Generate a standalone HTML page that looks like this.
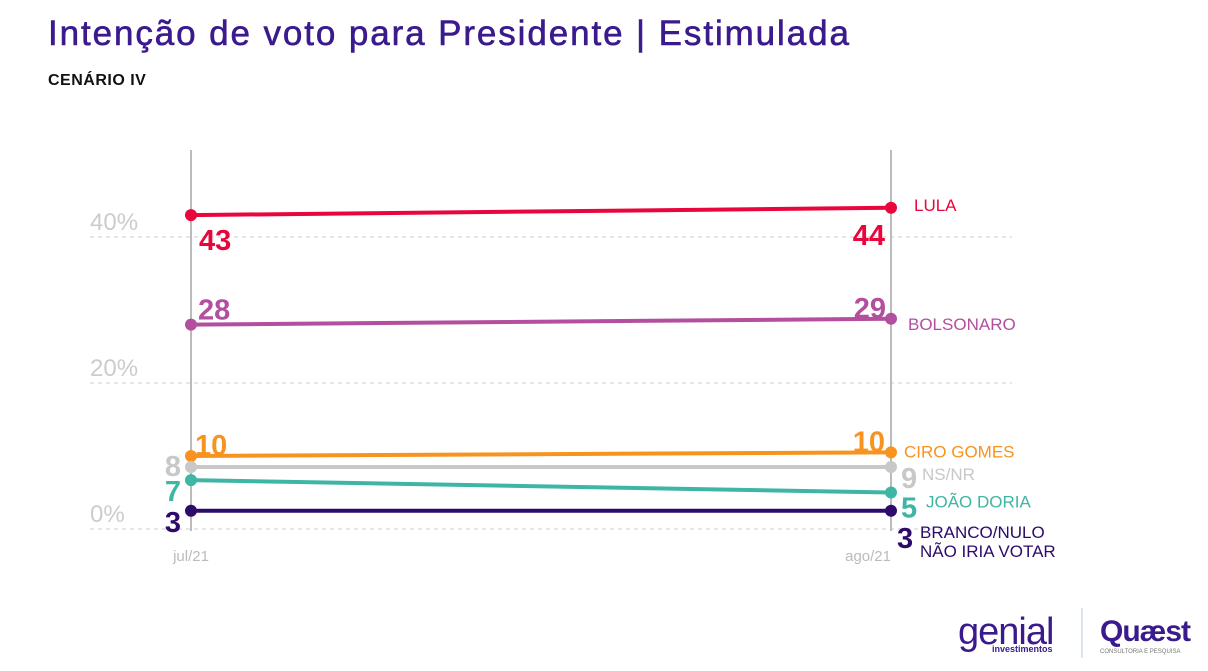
<!DOCTYPE html>
<html><head><meta charset="utf-8"><style>
body{margin:0;width:1208px;height:671px;background:#fff;overflow:hidden;font-family:"Liberation Sans",sans-serif}
#t{position:absolute;left:48px;top:14px;font-size:35px;color:#3a1a8c;letter-spacing:1.9px;-webkit-text-stroke:0.6px #3a1a8c}
#s{position:absolute;left:48px;top:72px;font-size:16px;font-weight:bold;color:#111;letter-spacing:0.5px}
svg{position:absolute;left:0;top:0}
</style></head><body>
<div id="t">Intenção de voto para Presidente | Estimulada</div>
<div id="s">CENÁRIO IV</div>
<svg id="c" width="1208" height="671"></svg>
<script>
const categories=["jul/21","ago/21"];
const seriesNames=["LULA","BOLSONARO","CIRO GOMES","NS/NR","JOÃO DORIA","BRANCO/NULO"];
const lula=[43,44];
const bolsonaro=[28,28.8];
const ciro=[10,10.5];
const nsnr=[8.5,8.5];
const doria=[6.7,5];
const branco=[2.5,2.5];
const printedLula=["43","44"],printedBols=["28","29"],printedCiro=["10","10"],printedNs=["8","9"],printedDoria=["7","5"],printedBranco=["3","3"];
const yTicks=[0,20,40];
const tickLabels=["0%","20%","40%"];
const NS="http://www.w3.org/2000/svg",svg=document.getElementById('c');
const x=i=>191+i*700, y=v=>529-v*7.3;
function el(t,a,txt){const e=document.createElementNS(NS,t);for(const k in a)e.setAttribute(k,a[k]);if(txt!==undefined)e.textContent=txt;svg.appendChild(e);return e;}
yTicks.forEach((v,i)=>{
 const g=el('line',{x1:90,x2:1012,y1:y(v),y2:y(v),stroke:'#ddd','stroke-dasharray':'4 4','stroke-width':1.5});
 
 const t=el('text',{x:90,y:y(v)-7,'font-size':24,fill:'#ccc'},tickLabels[i]);
 
});
categories.forEach((c,i)=>{
 const l=el('line',{x1:x(i),x2:x(i),y1:150,y2:531,stroke:'#bbb','stroke-width':2});
 
 const t=el('text',{x:x(i),y:561,'font-size':15,fill:'#bbb','text-anchor':i?'end':'middle'},c);
 
});
const S=[
 {d:lula,p:printedLula,c:'#e8063c',n:'LULA',lo:[[199,26,'start'],[885,28,'end']],no:[914,-2]},
 {d:bolsonaro,p:printedBols,c:'#b24f9e',n:'BOLSONARO',lo:[[198,-14,'start'],[886,-10,'end']],no:[908,6]},
 {d:ciro,p:printedCiro,c:'#f7931e',n:'CIRO GOMES',lo:[[195,-10,'start'],[885,-10,'end']],no:[904,0]},
 {d:nsnr,p:printedNs,c:'#c8c8c8',n:'NS/NR',lo:[[181,0,'end'],[901,12,'start']],no:[922,8]},
 {d:doria,p:printedDoria,c:'#3fb5a5',n:'JOÃO DORIA',lo:[[181,12,'end'],[901,16,'start']],no:[926,10]},
 {d:branco,p:printedBranco,c:'#2d0a6b',n:'BRANCO/NULO',lo:[[181,12,'end'],[897,28,'start']],no:[920,22]}
];
S.forEach(s=>{
 const ln=el('line',{x1:x(0),y1:y(s.d[0]),x2:x(1),y2:y(s.d[1]),stroke:s.c,'stroke-width':4});
 
 s.d.forEach((v,i)=>{
  const p=el('circle',{cx:x(i),cy:y(v),r:6,fill:s.c});
  
  const o=s.lo[i];
  const t=el('text',{x:o[0],y:y(v)+o[1]+9,'font-size':29,'font-weight':'bold',fill:s.c,'text-anchor':o[2]},s.p[i]);
  
 });
 const nl=el('text',{x:s.no[0],y:y(s.d[1])+s.no[1]+5,'font-size':17,fill:s.c},s.n);
 
});
const n2=el('text',{x:920,y:y(2.5)+46,'font-size':17,fill:'#2d0a6b'},'NÃO IRIA VOTAR');

const g1=el('text',{x:958,y:644,'font-size':38,fill:'#3a1a8c','letter-spacing':'-1'},'genial');

const g2=el('text',{x:992,y:652,'font-size':9,'font-weight':'bold',fill:'#3a1a8c'},'investimentos');

const dv=el('line',{x1:1082,x2:1082,y1:608,y2:658,stroke:'#bcd','stroke-width':1});

const q1=el('text',{x:1100,y:641,'font-size':30,'font-weight':'bold',fill:'#3a1a8c','letter-spacing':'-1'},'Quæst');

const q2=el('text',{x:1100,y:653,'font-size':6,fill:'#777'},'CONSULTORIA E PESQUISA');

</script>
</body></html>
